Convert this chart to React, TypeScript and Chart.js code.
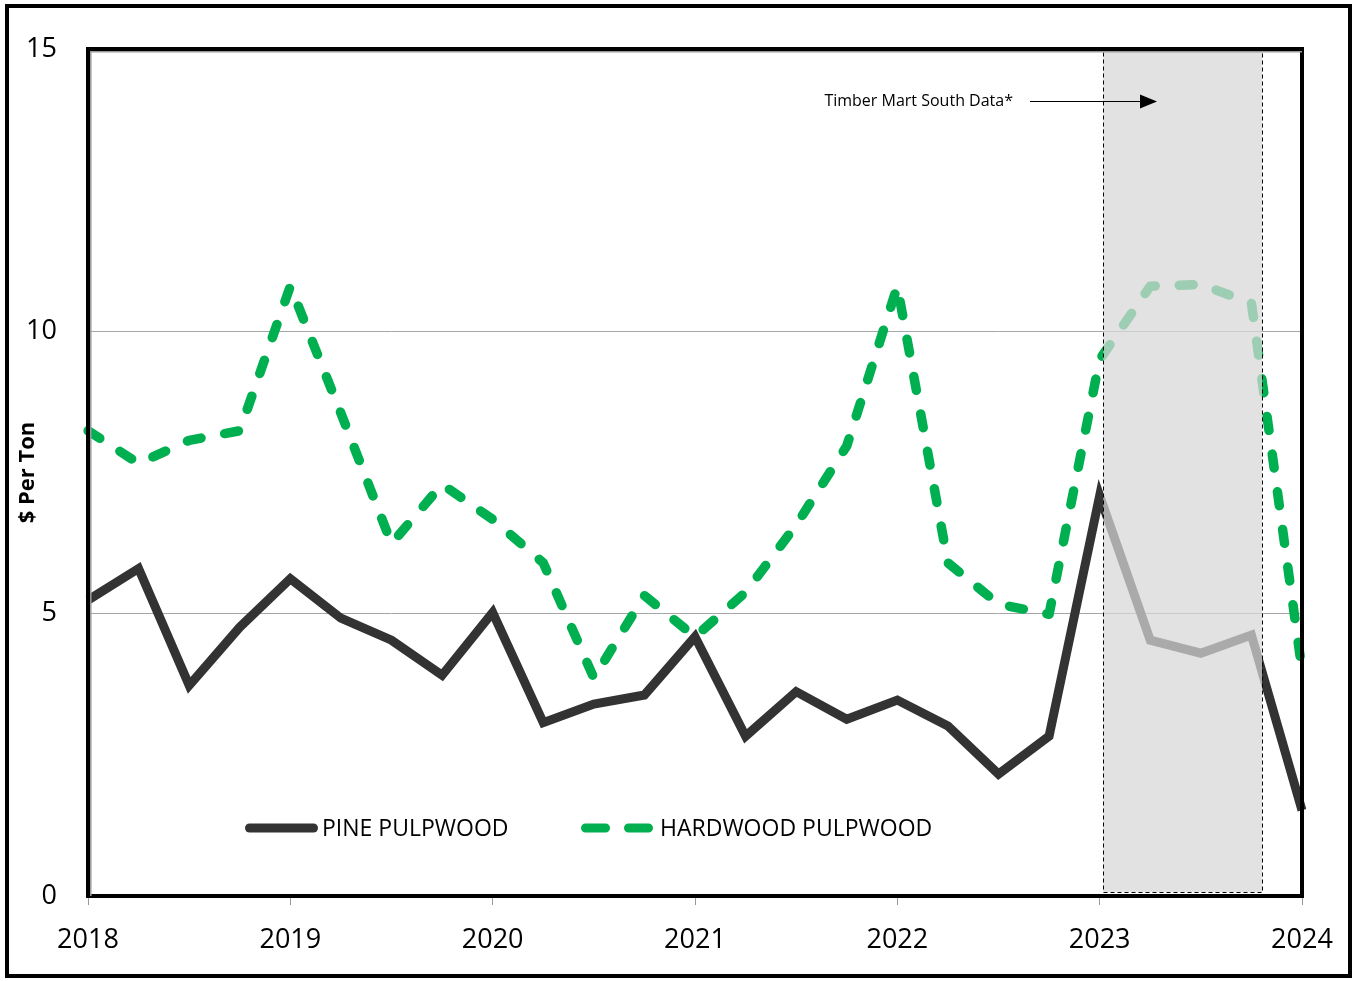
import { useEffect, useRef } from 'react';
import { Chart, registerables } from 'chart.js';

Chart.register(...registerables);

const quarters = [
  '2018 Q1', '2018 Q2', '2018 Q3', '2018 Q4',
  '2019 Q1', '2019 Q2', '2019 Q3', '2019 Q4',
  '2020 Q1', '2020 Q2', '2020 Q3', '2020 Q4',
  '2021 Q1', '2021 Q2', '2021 Q3', '2021 Q4',
  '2022 Q1', '2022 Q2', '2022 Q3', '2022 Q4',
  '2023 Q1', '2023 Q2', '2023 Q3', '2023 Q4',
  '2024 Q1',
];

const pinePulpwood = [
  5.24, 5.8, 3.73, 4.76,
  5.62, 4.92, 4.53, 3.91,
  5.02, 3.07, 3.4, 3.56,
  4.59, 2.83, 3.62, 3.13,
  3.47, 3.01, 2.16, 2.83,
  7.09, 4.53, 4.3, 4.62,
  1.52,
];

const hardwoodPulpwood = [
  8.24, 7.66, 8.07, 8.24,
  10.8, 8.55, 6.24, 7.29,
  6.67, 5.9, 3.86, 5.32,
  4.59, 5.38, 6.57, 7.97,
  10.8, 5.9, 5.17, 4.99,
  9.5, 10.8, 10.83, 10.5,
  4.0,
];

const seriesLabels = ['PINE PULPWOOD', 'HARDWOOD PULPWOOD'];
const yAxisTitle = '$ Per Ton';
const annotationText = 'Timber Mart South Data*';
const shadedQuarterRange = [20.07, 23.21];
const shadedValueRange = [0.07, 14.97];

const FONT = "'Open Sans', 'DejaVu Sans', sans-serif";

const overlayPlugin = {
  id: 'overlayPlugin',
  afterDatasetsDraw(chart: any) {
    const { ctx, chartArea, scales } = chart;
    const xs = scales.x;
    const ys = scales.y;
    const x1 = xs.getPixelForValue(shadedQuarterRange[0]);
    const x2 = xs.getPixelForValue(shadedQuarterRange[1]);
    const y1 = ys.getPixelForValue(shadedValueRange[1]);
    const y2 = ys.getPixelForValue(shadedValueRange[0]);
    ctx.save();
    ctx.fillStyle = 'rgba(215,215,215,0.73)';
    ctx.fillRect(x1, y1, x2 - x1, y2 - y1);
    ctx.setLineDash([4, 3]);
    ctx.strokeStyle = '#000';
    ctx.lineWidth = 1;
    ctx.strokeRect(Math.round(x1) + 0.5, Math.round(y1) + 0.5, Math.round(x2 - x1), Math.round(y2 - y1));
    ctx.restore();

    // plot frame
    ctx.save();
    ctx.strokeStyle = '#000';
    ctx.lineWidth = 4;
    ctx.strokeRect(chartArea.left, chartArea.top, chartArea.right - chartArea.left, chartArea.bottom - chartArea.top);
    ctx.strokeStyle = '#9a9a9a';
    ctx.lineWidth = 1.5;
    ctx.beginPath();
    ctx.moveTo(chartArea.left + 2.8, chartArea.bottom);
    ctx.lineTo(chartArea.left + 2.8, chartArea.top + 2.8);
    ctx.lineTo(chartArea.right, chartArea.top + 2.8);
    ctx.stroke();
    ctx.restore();
  },
  afterDraw(chart: any) {
    const { ctx, chartArea, width, height } = chart;
    const ds = chart.data.datasets;
    ctx.save();
    // outer frame
    ctx.strokeStyle = '#000';
    ctx.lineWidth = 4;
    ctx.strokeRect(7, 6, width - 9, height - 11);

    // legend
    const ly = 828;
    const lx = chartArea.left;
    ctx.lineCap = 'round';
    ctx.lineWidth = 9;
    ctx.strokeStyle = ds[1].borderColor;
    ctx.beginPath();
    ctx.moveTo(lx + 161.5, ly);
    ctx.lineTo(lx + 225.5, ly);
    ctx.stroke();
    ctx.strokeStyle = ds[0].borderColor;
    ctx.beginPath();
    ctx.moveTo(lx + 497.5, ly);
    ctx.lineTo(lx + 517.5, ly);
    ctx.moveTo(lx + 540.5, ly);
    ctx.lineTo(lx + 560.5, ly);
    ctx.stroke();
    ctx.fillStyle = '#000';
    ctx.font = `23px ${FONT}`;
    ctx.textBaseline = 'middle';
    ctx.textAlign = 'left';
    ctx.fillText(ds[1].label, lx + 234, ly + 1);
    ctx.fillText(ds[0].label, lx + 572, ly + 1);

    // annotation
    const ay = 101;
    ctx.font = `16px ${FONT}`;
    ctx.textAlign = 'right';
    ctx.fillText(annotationText, 1013, ay);
    ctx.lineCap = 'butt';
    ctx.lineWidth = 1;
    ctx.strokeStyle = '#000';
    ctx.beginPath();
    ctx.moveTo(1030, ay + 0.5);
    ctx.lineTo(1142, ay + 0.5);
    ctx.stroke();
    ctx.beginPath();
    ctx.moveTo(1157, ay + 0.5);
    ctx.lineTo(1140, ay - 6.5);
    ctx.lineTo(1140, ay + 7.5);
    ctx.closePath();
    ctx.fill();
    ctx.restore();
  },
};

export default function App() {
  const canvasRef = useRef<HTMLCanvasElement | null>(null);

  useEffect(() => {
    if (!canvasRef.current) return;
    Chart.defaults.font.family = FONT;
    const chart = new Chart(canvasRef.current, {
      type: 'line',
      data: {
        labels: quarters,
        datasets: [
          {
            label: seriesLabels[1],
            data: hardwoodPulpwood,
            borderColor: '#00b050',
            borderWidth: 9.5,
            borderDash: [14, 24],
            borderCapStyle: 'round',
            borderJoinStyle: 'round',
            pointRadius: 0,
            tension: 0,
            fill: false,
            order: 1,
          },
          {
            label: seriesLabels[0],
            data: pinePulpwood,
            borderColor: '#333333',
            borderWidth: 9,
            borderCapStyle: 'butt',
            borderJoinStyle: 'miter',
            pointRadius: 0,
            tension: 0,
            fill: false,
            order: 2,
          },
        ],
      },
      options: {
        animation: false,
        responsive: true,
        maintainAspectRatio: false,
        layout: { padding: { left: 10, top: 49, right: 50, bottom: 0 } },
        plugins: {
          legend: { display: false },
          tooltip: { enabled: false },
        },
        scales: {
          x: {
            type: 'category',
            offset: false,
            afterFit: (s: any) => { s.height = 85; },
            border: { display: false },
            grid: {
              drawOnChartArea: false,
              drawTicks: true,
              tickLength: 9,
              color: (c: any) => (c.index % 4 === 0 ? '#9a9a9a' : 'rgba(0,0,0,0)'),
            },
            ticks: {
              autoSkip: false,
              maxRotation: 0,
              minRotation: 0,
              padding: 19,
              color: '#000',
              font: { size: 27 },
              callback: (_v: any, i: number) => (quarters[i].endsWith('Q1') ? quarters[i].slice(0, 4) : ''),
            },
          },
          y: {
            min: 0,
            max: 15,
            afterFit: (s: any) => { s.width = 78; },
            border: { display: false },
            grid: {
              drawTicks: false,
              color: (c: any) => (c.tick && (c.tick.value === 5 || c.tick.value === 10) ? '#a6a6a6' : 'rgba(0,0,0,0)'),
            },
            ticks: {
              stepSize: 5,
              padding: 31,
              color: '#000',
              font: { size: 27 },
            },
            title: {
              display: true,
              text: yAxisTitle,
              color: '#000',
              font: { size: 22, weight: 'bold' },
              padding: { top: 5, bottom: 0 },
            },
          },
        },
      },
      plugins: [overlayPlugin],
    } as any);
    return () => chart.destroy();
  }, []);

  return (
    <div style={{ position: 'absolute', left: 0, top: 0, width: 1352, height: 981, background: '#fff' }}>
      <canvas ref={canvasRef} />
    </div>
  );
}
